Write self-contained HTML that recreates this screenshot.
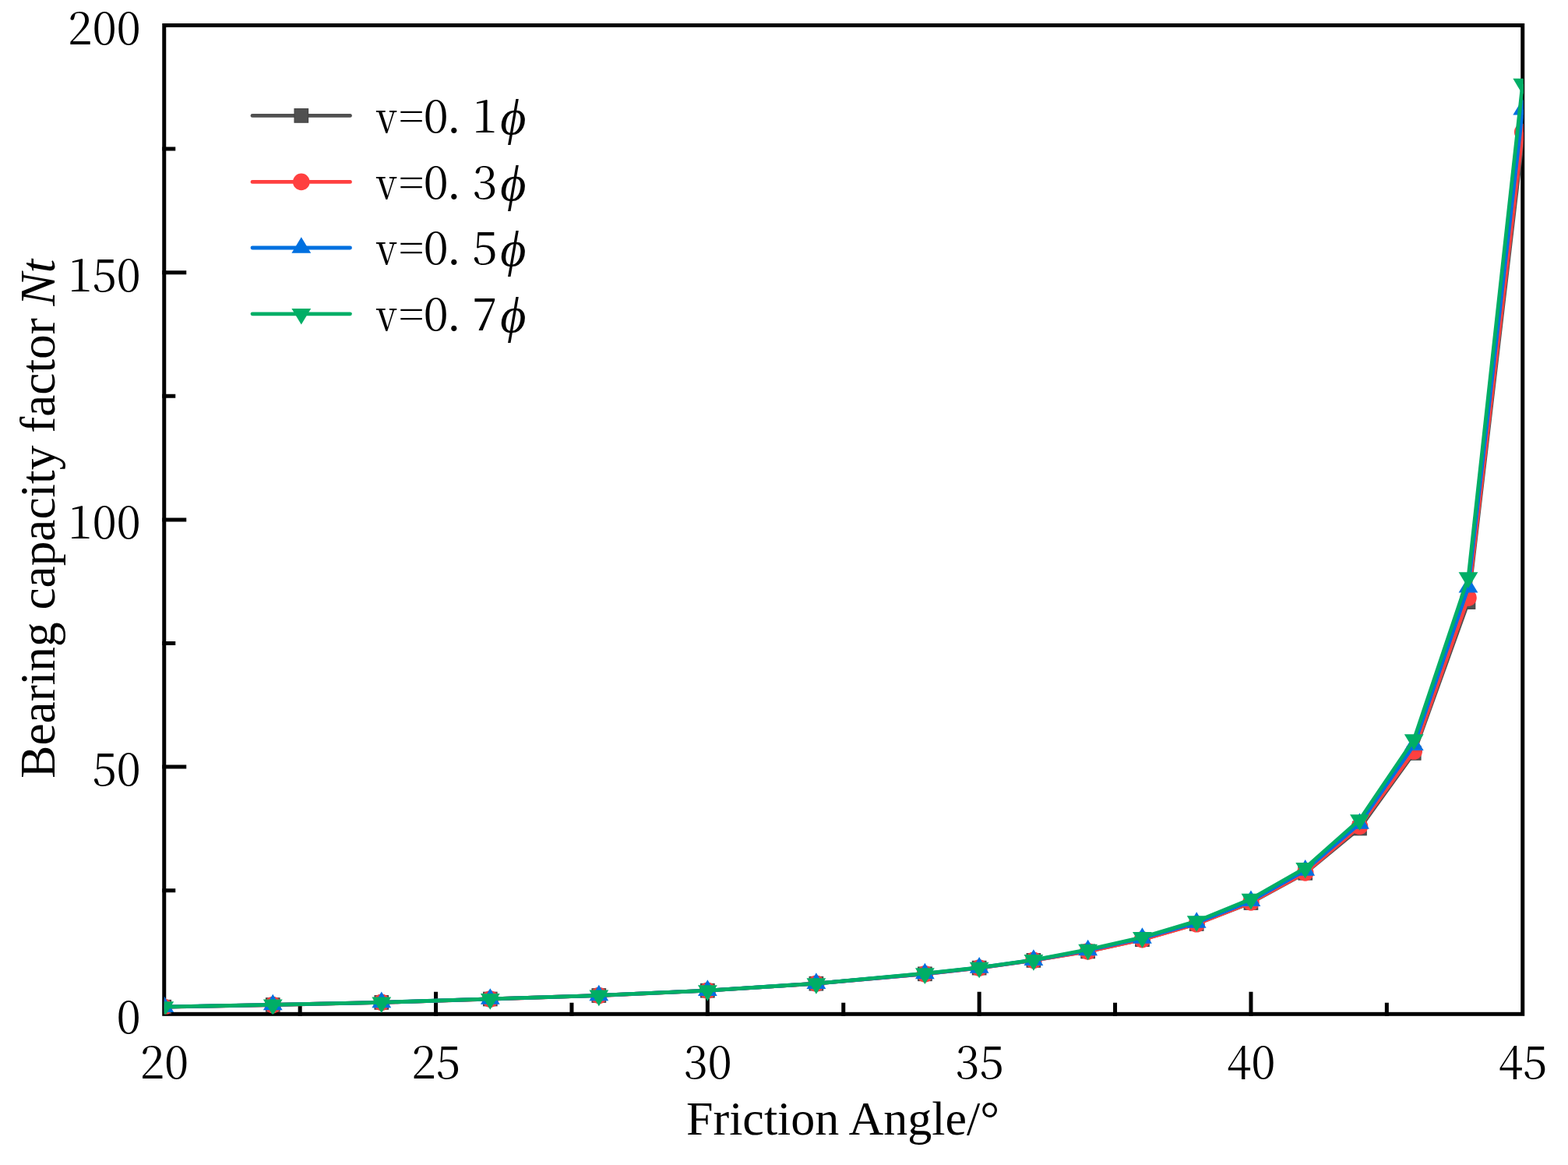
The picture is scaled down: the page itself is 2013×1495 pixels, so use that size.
<!DOCTYPE html>
<html><head><meta charset="utf-8"><style>
html,body{margin:0;padding:0;background:#fff;width:2013px;height:1495px;overflow:hidden;}
svg{display:block;}
</style></head><body>
<svg width="2013" height="1495" viewBox="0 0 2013 1495">
<defs><clipPath id="c"><rect x="210.75" y="32.5" width="1745.00" height="1269.10"/></clipPath></defs>
<g>
<rect x="210.75" y="32.5" width="1744.00" height="1268.80" fill="none" stroke="#000" stroke-width="5"/>
<path d="M208.25 1142.70H225.25 M208.25 984.10H239.25 M208.25 825.50H225.25 M208.25 666.90H239.25 M208.25 508.30H225.25 M208.25 349.70H239.25 M208.25 191.10H225.25 M385.15 1303.8V1286.8 M559.55 1303.8V1272.8 M733.95 1303.8V1286.8 M908.35 1303.8V1272.8 M1082.75 1303.8V1286.8 M1257.15 1303.8V1272.8 M1431.55 1303.8V1286.8 M1605.95 1303.8V1272.8 M1780.35 1303.8V1286.8" stroke="#000" stroke-width="5" fill="none"/>
</g>
<g clip-path="url(#c)">
<polyline points="210.75,1292.20 350.27,1289.50 489.79,1286.40 629.31,1282.00 768.83,1277.50 908.35,1271.20 1047.87,1262.20 1187.39,1249.80 1257.15,1242.10 1326.91,1232.40 1396.67,1220.90 1466.43,1205.70 1536.19,1185.50 1605.95,1158.50 1675.71,1120.30 1745.47,1063.00 1815.23,966.40 1884.99,772.60 1954.75,180.00" fill="none" stroke="#505050" stroke-width="4.8" stroke-linejoin="round"/>
<rect x="202.00" y="1283.45" width="17.5" height="17.5" fill="#505050" stroke="#464646" stroke-width="1.2"/>
<rect x="341.52" y="1280.75" width="17.5" height="17.5" fill="#505050" stroke="#464646" stroke-width="1.2"/>
<rect x="481.04" y="1277.65" width="17.5" height="17.5" fill="#505050" stroke="#464646" stroke-width="1.2"/>
<rect x="620.56" y="1273.25" width="17.5" height="17.5" fill="#505050" stroke="#464646" stroke-width="1.2"/>
<rect x="760.08" y="1268.75" width="17.5" height="17.5" fill="#505050" stroke="#464646" stroke-width="1.2"/>
<rect x="899.60" y="1262.45" width="17.5" height="17.5" fill="#505050" stroke="#464646" stroke-width="1.2"/>
<rect x="1039.12" y="1253.45" width="17.5" height="17.5" fill="#505050" stroke="#464646" stroke-width="1.2"/>
<rect x="1178.64" y="1241.05" width="17.5" height="17.5" fill="#505050" stroke="#464646" stroke-width="1.2"/>
<rect x="1248.40" y="1233.35" width="17.5" height="17.5" fill="#505050" stroke="#464646" stroke-width="1.2"/>
<rect x="1318.16" y="1223.65" width="17.5" height="17.5" fill="#505050" stroke="#464646" stroke-width="1.2"/>
<rect x="1387.92" y="1212.15" width="17.5" height="17.5" fill="#505050" stroke="#464646" stroke-width="1.2"/>
<rect x="1457.68" y="1196.95" width="17.5" height="17.5" fill="#505050" stroke="#464646" stroke-width="1.2"/>
<rect x="1527.44" y="1176.75" width="17.5" height="17.5" fill="#505050" stroke="#464646" stroke-width="1.2"/>
<rect x="1597.20" y="1149.75" width="17.5" height="17.5" fill="#505050" stroke="#464646" stroke-width="1.2"/>
<rect x="1666.96" y="1111.55" width="17.5" height="17.5" fill="#505050" stroke="#464646" stroke-width="1.2"/>
<rect x="1736.72" y="1054.25" width="17.5" height="17.5" fill="#505050" stroke="#464646" stroke-width="1.2"/>
<rect x="1806.48" y="957.65" width="17.5" height="17.5" fill="#505050" stroke="#464646" stroke-width="1.2"/>
<rect x="1876.24" y="763.85" width="17.5" height="17.5" fill="#505050" stroke="#464646" stroke-width="1.2"/>
<rect x="1946.00" y="171.25" width="17.5" height="17.5" fill="#505050" stroke="#464646" stroke-width="1.2"/>
<polyline points="210.75,1292.20 350.27,1289.50 489.79,1286.40 629.31,1282.00 768.83,1277.50 908.35,1271.20 1047.87,1262.20 1187.39,1249.80 1257.15,1242.10 1326.91,1232.40 1396.67,1220.90 1466.43,1205.70 1536.19,1185.80 1605.95,1157.90 1675.71,1119.90 1745.47,1060.40 1815.23,964.00 1884.99,767.10 1954.75,169.40" fill="none" stroke="#FF4040" stroke-width="4.8" stroke-linejoin="round"/>
<circle cx="210.75" cy="1292.20" r="10.8" fill="#FF4040"/>
<circle cx="350.27" cy="1289.50" r="10.8" fill="#FF4040"/>
<circle cx="489.79" cy="1286.40" r="10.8" fill="#FF4040"/>
<circle cx="629.31" cy="1282.00" r="10.8" fill="#FF4040"/>
<circle cx="768.83" cy="1277.50" r="10.8" fill="#FF4040"/>
<circle cx="908.35" cy="1271.20" r="10.8" fill="#FF4040"/>
<circle cx="1047.87" cy="1262.20" r="10.8" fill="#FF4040"/>
<circle cx="1187.39" cy="1249.80" r="10.8" fill="#FF4040"/>
<circle cx="1257.15" cy="1242.10" r="10.8" fill="#FF4040"/>
<circle cx="1326.91" cy="1232.40" r="10.8" fill="#FF4040"/>
<circle cx="1396.67" cy="1220.90" r="10.8" fill="#FF4040"/>
<circle cx="1466.43" cy="1205.70" r="10.8" fill="#FF4040"/>
<circle cx="1536.19" cy="1185.80" r="10.8" fill="#FF4040"/>
<circle cx="1605.95" cy="1157.90" r="10.8" fill="#FF4040"/>
<circle cx="1675.71" cy="1119.90" r="10.8" fill="#FF4040"/>
<circle cx="1745.47" cy="1060.40" r="10.8" fill="#FF4040"/>
<circle cx="1815.23" cy="964.00" r="10.8" fill="#FF4040"/>
<circle cx="1884.99" cy="767.10" r="10.8" fill="#FF4040"/>
<circle cx="1954.75" cy="169.40" r="10.8" fill="#FF4040"/>
<polyline points="210.75,1292.10 350.27,1289.40 489.79,1286.30 629.31,1281.90 768.83,1277.40 908.35,1271.10 1047.87,1262.10 1187.39,1249.50 1257.15,1241.80 1326.91,1232.10 1396.67,1219.50 1466.43,1204.00 1536.19,1184.00 1605.95,1156.20 1675.71,1116.80 1745.47,1056.90 1815.23,956.10 1884.99,753.70 1954.75,140.70" fill="none" stroke="#0070E0" stroke-width="4.8" stroke-linejoin="round"/>
<path d="M210.75 1278.37L223.15 1298.97L198.35 1298.97Z" fill="#0070E0"/>
<path d="M350.27 1275.67L362.67 1296.27L337.87 1296.27Z" fill="#0070E0"/>
<path d="M489.79 1272.57L502.19 1293.17L477.39 1293.17Z" fill="#0070E0"/>
<path d="M629.31 1268.17L641.71 1288.77L616.91 1288.77Z" fill="#0070E0"/>
<path d="M768.83 1263.67L781.23 1284.27L756.43 1284.27Z" fill="#0070E0"/>
<path d="M908.35 1257.37L920.75 1277.97L895.95 1277.97Z" fill="#0070E0"/>
<path d="M1047.87 1248.37L1060.27 1268.97L1035.47 1268.97Z" fill="#0070E0"/>
<path d="M1187.39 1235.77L1199.79 1256.37L1174.99 1256.37Z" fill="#0070E0"/>
<path d="M1257.15 1228.07L1269.55 1248.67L1244.75 1248.67Z" fill="#0070E0"/>
<path d="M1326.91 1218.37L1339.31 1238.97L1314.51 1238.97Z" fill="#0070E0"/>
<path d="M1396.67 1205.77L1409.07 1226.37L1384.27 1226.37Z" fill="#0070E0"/>
<path d="M1466.43 1190.27L1478.83 1210.87L1454.03 1210.87Z" fill="#0070E0"/>
<path d="M1536.19 1170.27L1548.59 1190.87L1523.79 1190.87Z" fill="#0070E0"/>
<path d="M1605.95 1142.47L1618.35 1163.07L1593.55 1163.07Z" fill="#0070E0"/>
<path d="M1675.71 1103.07L1688.11 1123.67L1663.31 1123.67Z" fill="#0070E0"/>
<path d="M1745.47 1043.17L1757.87 1063.77L1733.07 1063.77Z" fill="#0070E0"/>
<path d="M1815.23 942.37L1827.63 962.97L1802.83 962.97Z" fill="#0070E0"/>
<path d="M1884.99 739.97L1897.39 760.57L1872.59 760.57Z" fill="#0070E0"/>
<path d="M1954.75 126.97L1967.15 147.57L1942.35 147.57Z" fill="#0070E0"/>
<polyline points="210.75,1292.10 350.27,1289.40 489.79,1286.30 629.31,1281.90 768.83,1277.40 908.35,1271.10 1047.87,1262.10 1187.39,1249.20 1257.15,1241.60 1326.91,1231.90 1396.67,1218.50 1466.43,1202.80 1536.19,1182.10 1605.95,1153.70 1675.71,1113.80 1745.47,1052.00 1815.23,949.00 1884.99,741.20 1954.75,107.70" fill="none" stroke="#00AE66" stroke-width="4.8" stroke-linejoin="round"/>
<path d="M210.75 1305.83L223.15 1285.23L198.35 1285.23Z" fill="#00AE66"/>
<path d="M350.27 1303.13L362.67 1282.53L337.87 1282.53Z" fill="#00AE66"/>
<path d="M489.79 1300.03L502.19 1279.43L477.39 1279.43Z" fill="#00AE66"/>
<path d="M629.31 1295.63L641.71 1275.03L616.91 1275.03Z" fill="#00AE66"/>
<path d="M768.83 1291.13L781.23 1270.53L756.43 1270.53Z" fill="#00AE66"/>
<path d="M908.35 1284.83L920.75 1264.23L895.95 1264.23Z" fill="#00AE66"/>
<path d="M1047.87 1275.83L1060.27 1255.23L1035.47 1255.23Z" fill="#00AE66"/>
<path d="M1187.39 1262.93L1199.79 1242.33L1174.99 1242.33Z" fill="#00AE66"/>
<path d="M1257.15 1255.33L1269.55 1234.73L1244.75 1234.73Z" fill="#00AE66"/>
<path d="M1326.91 1245.63L1339.31 1225.03L1314.51 1225.03Z" fill="#00AE66"/>
<path d="M1396.67 1232.23L1409.07 1211.63L1384.27 1211.63Z" fill="#00AE66"/>
<path d="M1466.43 1216.53L1478.83 1195.93L1454.03 1195.93Z" fill="#00AE66"/>
<path d="M1536.19 1195.83L1548.59 1175.23L1523.79 1175.23Z" fill="#00AE66"/>
<path d="M1605.95 1167.43L1618.35 1146.83L1593.55 1146.83Z" fill="#00AE66"/>
<path d="M1675.71 1127.53L1688.11 1106.93L1663.31 1106.93Z" fill="#00AE66"/>
<path d="M1745.47 1065.73L1757.87 1045.13L1733.07 1045.13Z" fill="#00AE66"/>
<path d="M1815.23 962.73L1827.63 942.13L1802.83 942.13Z" fill="#00AE66"/>
<path d="M1884.99 754.93L1897.39 734.33L1872.59 734.33Z" fill="#00AE66"/>
<path d="M1954.75 121.43L1967.15 100.83L1942.35 100.83Z" fill="#00AE66"/>
</g>
<g fill="#000">
<text transform="translate(180.8 1325.6) scale(0.97 1)" text-anchor="end" style="font-family:'Noto Serif CJK SC',serif;font-size:58.5px">0</text>
<text transform="translate(180.8 1008.4) scale(0.97 1)" text-anchor="end" style="font-family:'Noto Serif CJK SC',serif;font-size:58.5px">50</text>
<text transform="translate(180.8 691.2) scale(0.97 1)" text-anchor="end" style="font-family:'Noto Serif CJK SC',serif;font-size:58.5px">100</text>
<text transform="translate(180.8 374.0) scale(0.97 1)" text-anchor="end" style="font-family:'Noto Serif CJK SC',serif;font-size:58.5px">150</text>
<text transform="translate(180.8 56.8) scale(0.97 1)" text-anchor="end" style="font-family:'Noto Serif CJK SC',serif;font-size:58.5px">200</text>
<text transform="translate(211.1 1384.0) scale(0.97 1)" text-anchor="middle" style="font-family:'Noto Serif CJK SC',serif;font-size:58.5px">20</text>
<text transform="translate(559.8 1384.0) scale(0.97 1)" text-anchor="middle" style="font-family:'Noto Serif CJK SC',serif;font-size:58.5px">25</text>
<text transform="translate(908.6 1384.0) scale(0.97 1)" text-anchor="middle" style="font-family:'Noto Serif CJK SC',serif;font-size:58.5px">30</text>
<text transform="translate(1257.5 1384.0) scale(0.97 1)" text-anchor="middle" style="font-family:'Noto Serif CJK SC',serif;font-size:58.5px">35</text>
<text transform="translate(1606.2 1384.0) scale(0.97 1)" text-anchor="middle" style="font-family:'Noto Serif CJK SC',serif;font-size:58.5px">40</text>
<text transform="translate(1955.0 1384.0) scale(0.97 1)" text-anchor="middle" style="font-family:'Noto Serif CJK SC',serif;font-size:58.5px">45</text>
<text x="1082" y="1456.3" text-anchor="middle" style="font-family:'Liberation Serif',serif;font-size:62px">Friction Angle/°</text>
<text transform="translate(70.1 665.7) rotate(-90)" text-anchor="middle" style="font-family:'Liberation Serif',serif;font-size:63.3px">Bearing capacity factor <tspan font-style="italic">Nt</tspan></text>
</g>
<g>
<path d="M324 148.4H449.5" stroke="#505050" stroke-width="4.8" stroke-linecap="round"/>
<rect x="378.05" y="139.65" width="17.5" height="17.5" fill="#505050" stroke="#464646" stroke-width="1.2"/>
<text transform="translate(483.3 171.4) scale(0.82 0.97)" style="font-family:'Noto Serif CJK SC',serif;font-size:58.5px">v</text>
<text transform="translate(512.3 168.4) scale(0.93 0.88)" style="font-family:'Noto Serif CJK SC',serif;font-size:58.5px">=</text>
<text y="170.4" style="font-family:'Noto Serif CJK SC',serif;font-size:58.5px"><tspan x="543.5">0</tspan><tspan x="573.3">.</tspan><tspan x="606.3">1</tspan><tspan x="642.3" dy="1.6" style="font-family:'Liberation Serif',serif;font-style:italic;font-size:64px">ϕ</tspan></text>
<path d="M324 233.4H449.5" stroke="#FF4040" stroke-width="4.8" stroke-linecap="round"/>
<circle cx="386.80" cy="233.40" r="10.8" fill="#FF4040"/>
<text transform="translate(483.3 255.9) scale(0.82 0.97)" style="font-family:'Noto Serif CJK SC',serif;font-size:58.5px">v</text>
<text transform="translate(512.3 252.9) scale(0.93 0.88)" style="font-family:'Noto Serif CJK SC',serif;font-size:58.5px">=</text>
<text y="254.9" style="font-family:'Noto Serif CJK SC',serif;font-size:58.5px"><tspan x="543.5">0</tspan><tspan x="573.3">.</tspan><tspan x="606.3">3</tspan><tspan x="642.3" dy="1.6" style="font-family:'Liberation Serif',serif;font-style:italic;font-size:64px">ϕ</tspan></text>
<path d="M324 318.0H449.5" stroke="#0070E0" stroke-width="4.8" stroke-linecap="round"/>
<path d="M386.80 304.27L399.20 324.87L374.40 324.87Z" fill="#0070E0"/>
<text transform="translate(483.3 340.4) scale(0.82 0.97)" style="font-family:'Noto Serif CJK SC',serif;font-size:58.5px">v</text>
<text transform="translate(512.3 337.4) scale(0.93 0.88)" style="font-family:'Noto Serif CJK SC',serif;font-size:58.5px">=</text>
<text y="339.4" style="font-family:'Noto Serif CJK SC',serif;font-size:58.5px"><tspan x="543.5">0</tspan><tspan x="573.3">.</tspan><tspan x="606.3">5</tspan><tspan x="642.3" dy="1.6" style="font-family:'Liberation Serif',serif;font-style:italic;font-size:64px">ϕ</tspan></text>
<path d="M324 402.8H449.5" stroke="#00AE66" stroke-width="4.8" stroke-linecap="round"/>
<path d="M386.80 416.53L399.20 395.93L374.40 395.93Z" fill="#00AE66"/>
<text transform="translate(483.3 424.9) scale(0.82 0.97)" style="font-family:'Noto Serif CJK SC',serif;font-size:58.5px">v</text>
<text transform="translate(512.3 421.9) scale(0.93 0.88)" style="font-family:'Noto Serif CJK SC',serif;font-size:58.5px">=</text>
<text y="423.9" style="font-family:'Noto Serif CJK SC',serif;font-size:58.5px"><tspan x="543.5">0</tspan><tspan x="573.3">.</tspan><tspan x="606.3">7</tspan><tspan x="642.3" dy="1.6" style="font-family:'Liberation Serif',serif;font-style:italic;font-size:64px">ϕ</tspan></text>
</g>
</svg>
</body></html>
